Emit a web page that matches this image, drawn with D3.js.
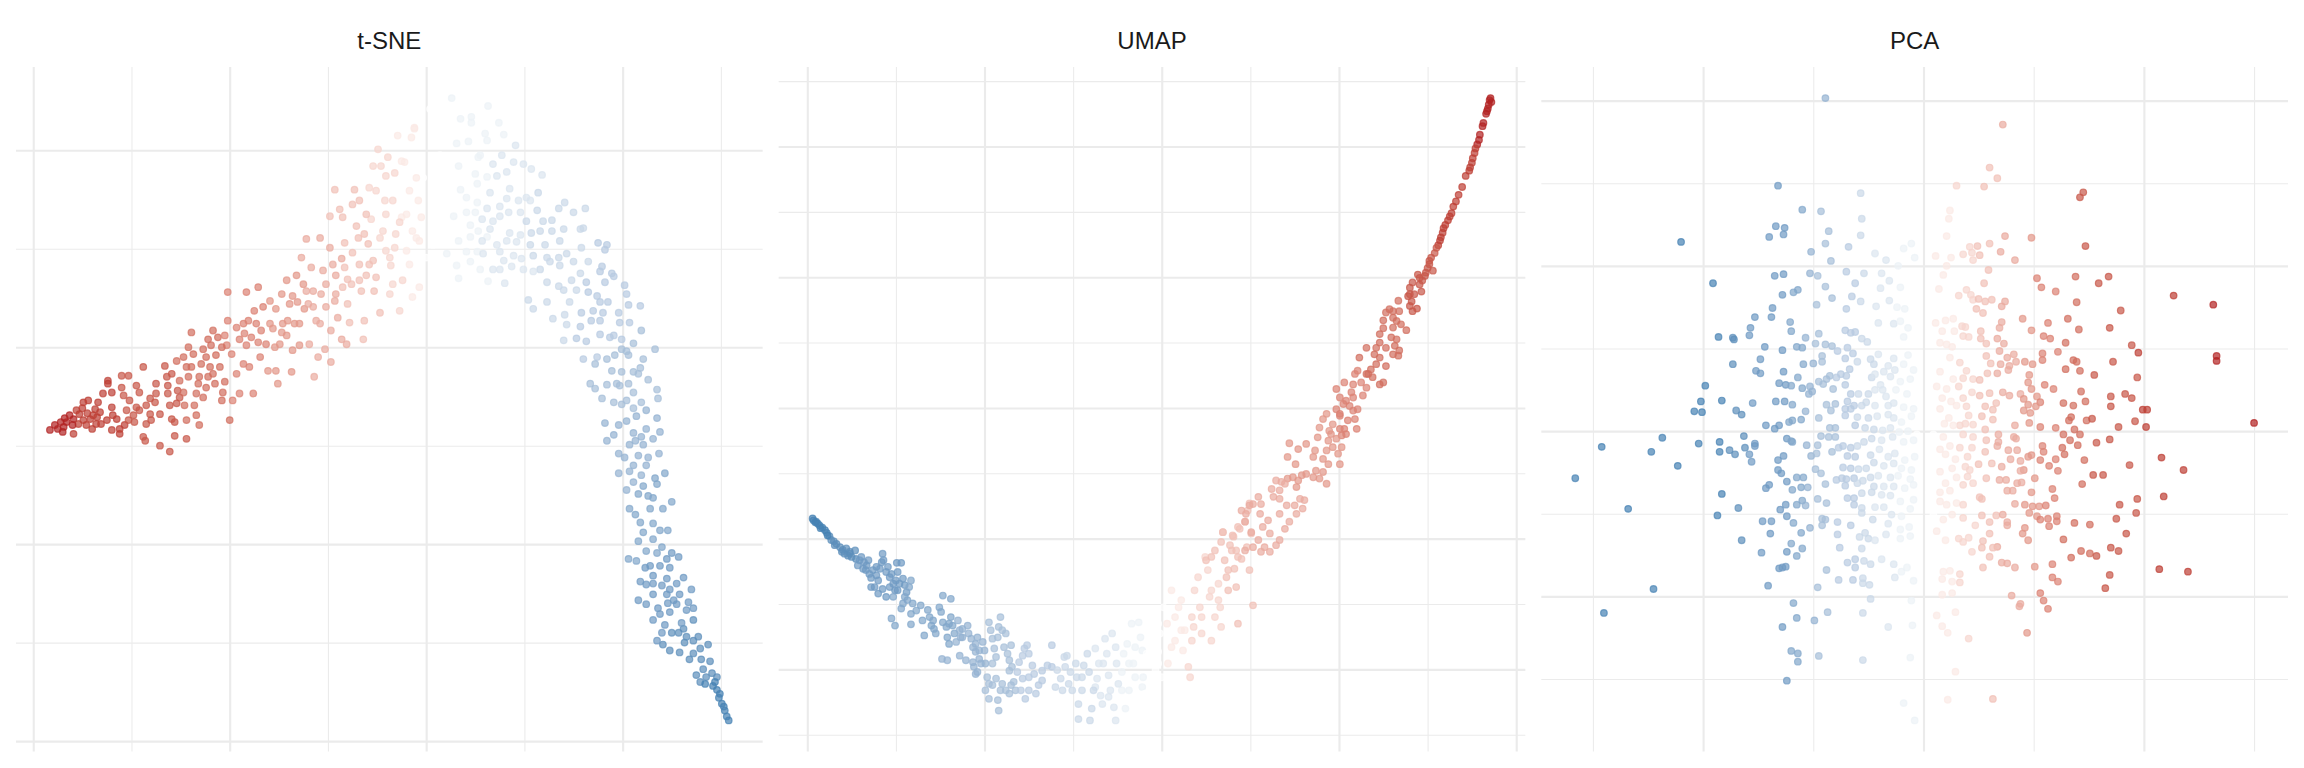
<!DOCTYPE html>
<html>
<head>
<meta charset="utf-8">
<script src="https://cdn.jsdelivr.net/npm/d3@7"></script>
<style>
html,body{margin:0;padding:0;background:#fff;}
svg{display:block;}
</style>
</head>
<body>
<svg id="chart" width="2304" height="768"></svg>
<script>
// ---------------- DATA ----------------
const panelTitles = ["t-SNE", "UMAP", "PCA"];

// each point: [dim1, dim2, colour value (-10 = blue end, +10 = red end)]
const tsne = [
[-38.3,-8.4,10],[-37.8,-7.9,10],[-37.5,-8.3,10],[-36.9,-8.1,10],[-36.6,-7.6,10],[-36.3,-6.9,10],[-35.9,-7.3,10],[-35.6,-6.4,9],[-35.3,-6.8,9],[-35.4,-7.8,9],[-34.9,-7.4,9],[-34.6,-7.9,9],[-35.9,-8.8,9],[-34.2,-7.3,9],[-33.9,-6.9,9],[-34.4,-5.4,9],[-34.9,-5.6,9],[-33.7,-6.3,9],[-33.2,-6.6,9],[-33.1,-7.8,9],[-33.4,-5.6,9],[-32.9,-4.7,9],[-32.4,-3.4,9],[-32.4,-3.7,9],[-32.0,-4.6,9],[-32.0,-6.1,9],[-31.9,-6.9,9],[-32.0,-8.4,9],[-31.2,-8.8,9],[-31.2,-8.3,9],[-30.7,-7.9,9],
[-37.2,-7.6,10],[-36.0,-7.9,10],[-35.0,-6.2,9],[-34.0,-8.3,9],[-33.5,-7.1,9],[-36.8,-7.2,10],[-37.0,-8.6,10],[-34.5,-6.7,9],
[-31.0,-4.1,8],[-31.0,-2.9,8],[-30.3,-2.9,8],[-30.8,-4.9,8],[-30.2,-5.4,8],[-30.5,-6.4,8],[-29.8,-6.9,8],[-29.7,-7.6,8],[-29.5,-6.1,8],[-29.5,-3.9,8],[-29.2,-4.6,8],[-28.8,-2.0,8],[-28.8,-9.1,8],[-28.6,-9.5,8],[-28.5,-7.8,8],[-28.5,-5.9,8],[-28.1,-6.8,8],[-28.1,-5.2,8],[-27.6,-5.6,8],[-27.5,-4.7,8],[-27.1,-6.8,8],[-27.1,-10.0,8],[-26.1,-10.6,8],[-26.6,-1.9,8],[-26.4,-3.0,8],[-26.3,-3.9,8],[-26.3,-4.7,8],[-26.1,-5.9,8],[-25.9,-7.3,8],[-25.6,-7.6,8],[-25.6,-9.0,8],[-25.4,-5.7,8],[-25.3,-4.4,8],[-25.1,-3.4,7],[-25.1,-5.1,8],[-24.7,-4.6,7],[-24.6,-5.9,7],[-24.4,-9.3,8],[-24.4,-7.4,7],[-24.2,-3.0,7],[-24.4,-2.0,7],[-24.2,0.0,7],[-23.9,1.5,7],
[-23.4,-4.7,7],[-23.2,-3.7,7],[-23.1,-3.0,7],[-22.9,-1.7,7],[-22.7,-0.2,7],[-23.6,-5.9,7],[-23.4,-6.9,7],[-23.1,-7.9,7],[-22.7,-5.1,7],[-22.4,-4.1,7],[-22.2,-3.0,7],[-22.0,-2.0,7],[-21.9,0.2,7],[-21.7,1.7,7],[-21.5,-3.7,7],[-21.4,-0.8,7],[-21.2,1.0,7],[-21.0,-2.0,7],[-20.8,-5.4,7],[-20.7,-4.6,7],[-20.5,-3.5,7],[-20.3,0.2,6],[-20.2,2.7,6],[-20.0,-7.4,7],[-20.2,5.6,6],[-19.7,-5.4,6],[-19.3,-2.7,6],[-19.0,-4.7,6],[-18.6,-1.7,6],[-18.5,1.4,6],[-18.3,5.6,6],[-18.1,2.7,6],[-18.0,-2.0,6],[-17.6,-4.7,6],[-17.5,3.7,6],[-17.1,0.5,6],[-17.1,6.1,6],[-16.9,-1.0,6],[-16.8,1.7,6],[-16.3,0.3,6],[-16.1,-2.4,5],[-15.9,4.7,5],[-15.6,1.9,5],[-15.3,3.9,5],[-15.3,-2.4,5],[-15.1,-3.7,5],[-14.9,0.3,5],[-14.7,5.4,5],[-14.6,2.4,5],[-14.2,6.8,5],[-14.1,2.7,5],[-13.9,4.4,5],[-13.7,-2.5,5],[-13.6,-0.3,5],[-13.4,2.4,5],[-13.2,7.3,5],[-13.1,4.6,5],[-12.9,0.2,5],[-12.7,9.1,4],[-12.4,3.9,5],[-12.2,5.7,4],[-12.2,11.0,4],[-11.9,0.3,4],[-11.7,8.1,4],[-11.5,4.1,4],[-11.4,-3.0,4],[-11.2,2.7,4],[-11.0,-1.0,4],[-10.8,11.1,4],[-10.7,5.4,4],[-10.5,7.8,4],[-10.3,-0.2,4],[-10.2,4.1,4],[-9.8,13.3,3],[-9.8,10.1,4],[-9.7,-1.5,4],[-9.5,8.4,4],[-9.3,16.0,3],[-9.3,4.7,4],[-9.2,7.3,4],[-9.0,3.0,4],[-8.8,14.0,3],[-8.6,0.8,4],[-8.5,13.2,3],[-8.5,6.1,3],[-8.3,8.1,3],[-8.3,10.6,3],[-8.1,0.3,4],[-8.0,4.4,3],[-7.8,2.5,3],[-7.6,6.4,3],[-7.5,14.5,3],[-7.3,16.0,3],[-7.1,12.3,3],[-6.9,11.1,3],[-6.8,8.4,3],[-6.6,5.7,3],[-6.4,0.8,3],[-6.3,2.7,3],[-6.1,7.3,3],[-5.9,10.5,3],[-5.8,16.2,2],[-5.6,13.0,2],[-5.4,18.4,2],[-5.4,8.8,3],[-5.3,5.7,3],[-4.9,20.1,2],[-4.7,11.1,2],[-4.7,3.5,3],[-4.6,18.4,2],[-4.2,14.9,2],[-4.1,9.8,2],[-4.1,13.5,2],[-3.9,19.3,2],[-3.7,5.4,2],[-3.6,8.3,2],[-3.4,6.4,2],[-3.2,17.7,2],[-3.1,11.5,2],[-2.9,21.5,1],[-2.7,3.7,2],[-2.5,13.2,1],[-2.4,6.8,2],[-2.2,18.8,1],[-2.0,9.8,1],[-1.7,8.4,1],[-1.5,21.3,1],[-1.4,5.1,1],[-1.2,22.3,1],[-1.0,11.1,1],[-0.8,14.9,1],[-0.7,6.1,1],[-0.5,13.2,1],[-0.3,17.2,0],[0.0,9.1,0],[0.4,24.2,0],[-1.2,22.2,1],
[-33.6,-7.8,9],[-32.5,-7.4,9],[-31.5,-7.3,9],[-30.3,-7.4,8],[-29.2,-6.4,8],[-28.0,-7.4,8],[-27.5,-3.7,8],[-25.9,-2.7,8],[-25.4,-1.4,7],[-24.7,-1.0,7],[-23.9,-2.0,7],[-23.7,-0.7,7],[-22.4,-1.0,7],[-22.2,0.8,7],[-21.7,-2.7,7],[-20.8,0.0,7],[-20.5,1.2,6],[-19.8,-0.7,6],[-19.3,2.0,6],[-19.0,0.8,6],[-18.6,2.4,6],[-18.3,0.2,6],[-17.8,1.0,6],[-17.3,2.4,6],[-16.6,4.1,6],[-15.9,2.4,5],[-15.4,0.0,5],[-14.7,1.5,5],[-14.2,1.2,5],[-13.6,5.2,5],[-12.9,2.4,5],[-12.5,6.4,5],[-12.0,4.4,4],[-11.5,5.7,4],[-10.8,2.4,4],[-10.2,6.4,4],[-9.7,1.7,4],[-9.2,5.4,4],[-8.6,9.0,4],[-8.0,6.9,3],[-7.5,9.6,3],[-6.8,6.8,3],[-6.3,11.5,3],[-5.8,8.4,3],[-5.1,7.1,3],[-4.4,11.8,2],[-3.7,9.1,2],[-3.2,10.1,2],[-2.7,12.7,2],[-2.0,13.5,1],[-1.4,11.8,1],[-0.7,10.8,1],[-5.1,15.9,2],[-3.4,14.9,2],[-1.7,15.9,1],[-1.0,17.2,1],[-2.5,18.9,1],[-4.1,17.4,2],[-6.8,14.9,3],[-6.1,13.5,3],
[1.4,19.5,0],[3.5,16.0,-1],[1.8,14.5,0],[1.1,17.8,0],[2.4,12.0,0],[4.1,13.7,-1],[5.2,16.6,-1],[6.8,12.8,-2],[8.5,16.1,-2],[6.2,11.2,-1],[7.5,7.9,-2],[4.5,8.7,-1],[2.4,7.9,0],[5.2,9.7,-1],[1.4,12.4,0],
[16.3,6.6,-4],[17.7,4.6,-4],[19.1,1.2,-4],[20.4,-0.4,-5],[21.8,-2.1,-5],[19.4,-3.7,-5],[21.1,-6.2,-5],[22.4,-8.3,-6],[20.7,-9.9,-6],[22.4,-12.0,-6],[21.1,-13.7,-6],[23.1,-15.3,-7],[21.8,-17.8,-7],[23.8,-18.6,-7],[24.5,-21.5,-8],[23.1,-24.0,-8],[25.2,-25.7,-8],[24.1,-30.2,-9],[26.2,-28.6,-9],[27.2,-31.1,-9],[28.9,-31.9,-9],[29.6,-33.5,-9],[27.9,-34.0,-9],
[2.6,25.3,-1],[6.3,24.5,-1],[3.5,23.2,-1],[4.6,23.4,-1],[4.6,22.8,-1],[7.4,22.8,-1],[7.9,21.6,-1],[6.0,21.7,-1],[6.2,21.0,-1],[4.3,20.9,-1],[2.1,20.7,0],[3.1,20.7,-1],[9.1,20.5,-2],[5.5,19.5,-1],[7.7,19.5,-2],[5.3,19.3,-1],[6.8,18.6,-2],[8.9,18.8,-2],[9.9,18.6,-2],[10.7,18.1,-2],[11.8,17.5,-2],[8.2,17.8,-2],[7.2,17.4,-2],[6.2,17.3,-1],[5.0,17.6,-1],[3.3,18.4,-1],[2.6,16.8,0],[4.1,15.2,-1],[5.2,14.7,-1],[6.5,15.7,-2],[8.2,15.1,-2],[9.4,14.9,-2],[10.6,14.9,-2],[11.4,15.7,-3],[10.2,15.2,-2],[7.5,14.3,-2],[6.2,14.1,-2],[5.0,13.7,-1],[2.8,13.3,-1],[4.5,12.4,-1],[5.7,13.0,-2],[7.5,13.3,-2],[8.4,13.7,-2],[9.6,13.7,-2],[10.2,12.8,-3],[11.3,13.9,-3],[11.9,12.8,-3],[12.8,12.9,-3],[13.5,14.1,-3],[14.1,14.7,-3],[15.0,13.7,-3],[16.2,14.1,-3],[14.0,12.0,-3],[12.8,11.8,-3],[11.6,11.8,-3],[10.7,11.6,-3],[9.6,11.4,-2],[8.5,11.6,-2],[6.5,12.0,-2],[5.3,11.8,-1],[4.5,11.2,-1],[3.3,10.8,-1],[1.9,10.8,0],[0.7,10.4,0],[5.7,10.8,-2],[7.2,10.4,-2],[8.2,10.8,-2],[9.2,10.7,-2],[10.6,10.4,-3],[12.1,10.4,-3],[13.6,10.8,-3],[15.7,12.0,-3],[16.0,12.1,-3],[17.5,10.6,-4],[18.4,10.4,-4],[15.8,10.1,-3],[14.3,9.5,-3],[13.5,9.1,-3],[12.3,9.1,-3],[10.9,9.3,-3],[9.7,9.0,-2],[8.9,9.3,-2],[7.5,9.7,-2],[5.8,9.5,-2],[4.1,9.7,-1],[2.1,9.5,-1],[3.1,8.3,-1],[5.5,7.9,-1],[6.8,7.9,-2],[7.9,8.8,-2],[8.7,8.2,-2],[9.9,7.9,-2],[11.6,7.9,-3],[12.6,8.7,-3],[13.6,8.3,-3],[15.0,8.7,-3],[16.5,8.7,-3],[17.9,8.2,-4],[18.2,9.9,-4],[18.9,7.5,-4],[17.7,7.7,-4],[15.7,7.5,-3],[14.8,6.8,-3],[13.5,6.2,-3],[12.3,6.6,-3],[10.9,7.7,-2],[6.3,6.7,-1],[8.0,6.5,-2],[3.3,7.0,-1],[14.0,5.8,-3],[15.3,5.8,-3],[16.5,5.6,-4],[17.4,5.2,-4],[18.2,6.6,-4],[19.1,7.2,-4],[20.2,6.3,-4],[20.4,5.4,-4],[10.4,4.8,-3],[12.3,4.6,-3],[10.9,3.9,-3],[14.6,4.6,-3],[15.8,3.5,-4],[17.0,3.7,-4],[18.0,3.5,-4],[18.5,4.6,-4],[19.6,3.5,-4],[20.6,4.3,-4],[21.8,4.2,-4],[19.7,2.5,-4],[20.7,2.5,-4],[12.9,2.9,-3],[14.1,3.3,-3],[14.3,2.3,-3],[15.7,2.1,-4],[16.8,2.7,-4],[17.7,2.7,-4],[18.7,1.0,-4],[19.9,0.8,-4],[21.1,0.4,-5],[21.9,1.7,-5],[23.3,-0.2,-5],[14.0,0.7,-3],[15.3,0.9,-4],[16.3,0.6,-4],[17.7,1.3,-4],[19.9,-0.2,-5],[16.0,-1.2,-4],[17.4,-1.0,-4],[18.4,-1.2,-5],[19.2,-0.8,-5],[20.6,-0.8,-5],[22.1,-1.2,-5],[17.2,-1.7,-5],[18.9,-2.4,-5],[19.9,-2.5,-5],[21.1,-2.5,-5],[22.6,-3.3,-5],[21.6,-2.7,-5],[16.7,-3.7,-5],[18.4,-3.8,-5],[19.7,-3.9,-5],[20.6,-3.7,-5],[21.1,-4.6,-5],[23.5,-4.3,-5],[17.2,-4.2,-5],[17.9,-5.2,-5],[19.1,-5.6,-5],[19.9,-5.8,-5],[20.4,-5.4,-5],[21.9,-5.6,-5],[23.6,-5.2,-5],[22.4,-6.4,-6],[21.4,-7.0,-6],[23.5,-7.2,-6],[18.2,-7.7,-6],[19.6,-7.9,-6],[20.4,-7.5,-6],[21.1,-8.7,-6],[21.9,-9.1,-6],[23.1,-9.3,-6],[23.8,-8.6,-6],[18.4,-9.5,-6],[19.1,-8.9,-6],[21.3,-9.5,-6],[22.1,-9.9,-6],[19.6,-10.8,-6],[20.2,-11.2,-6],[21.6,-11.0,-6],[22.6,-11.2,-6],[23.7,-10.8,-6],[21.1,-12.0,-6],[19.6,-12.8,-6],[20.7,-12.6,-6],[21.9,-13.0,-6],[23.3,-13.3,-7],[24.3,-12.8,-7],[23.5,-13.9,-7],[22.1,-14.1,-7],[20.4,-14.5,-6],[21.6,-14.9,-7],[22.6,-15.1,-7],[20.7,-16.4,-7],[21.3,-17.0,-7],[22.8,-16.4,-7],[24.1,-16.4,-7],[25.0,-15.7,-7],[23.1,-17.9,-7],[24.6,-18.6,-7],[22.1,-18.8,-7],[21.6,-19.7,-7],[23.1,-19.5,-7],[24.0,-20.3,-7],[22.4,-20.7,-7],[23.5,-20.9,-7],[25.0,-20.9,-8],[25.7,-21.3,-8],[20.6,-21.5,-7],[21.4,-21.7,-7],[22.8,-22.2,-8],[22.3,-22.4,-8],[23.8,-22.2,-8],[24.8,-22.4,-8],[23.1,-23.2,-8],[24.5,-23.5,-8],[21.8,-23.8,-8],[22.4,-24.1,-8],[24.0,-24.2,-8],[24.8,-24.6,-8],[25.5,-24.0,-8],[26.2,-23.4,-8],[23.1,-25.1,-8],[24.5,-25.1,-8],[25.8,-25.1,-8],[27.0,-24.6,-8],[21.6,-25.7,-8],[22.4,-26.1,-8],[23.6,-26.5,-8],[24.6,-26.0,-8],[25.5,-26.1,-8],[26.7,-25.9,-8],[23.8,-27.1,-8],[24.8,-26.9,-8],[26.5,-26.7,-8],[27.2,-26.5,-8],[23.1,-27.7,-8],[24.3,-28.2,-8],[26.0,-28.0,-8],[27.2,-27.7,-9],[24.0,-29.0,-8],[25.0,-29.0,-9],[25.7,-29.0,-9],[26.5,-29.4,-9],[27.7,-29.4,-9],[23.5,-29.8,-8],[26.3,-30.0,-9],[27.2,-29.8,-9],[28.7,-30.2,-9],[27.9,-30.6,-9],[24.8,-30.8,-9],[25.8,-31.0,-9],[26.8,-31.7,-9],[28.0,-31.7,-9],[27.5,-33.3,-9],[28.2,-32.7,-9],[28.5,-33.5,-9],[29.1,-33.1,-9],[28.4,-34.2,-10],[29.2,-34.4,-10],[29.9,-35.2,-10],[29.6,-34.8,-10],[30.1,-36.2,-10],[30.4,-36.9,-10],[30.6,-37.5,-10],[30.8,-37.9,-10],[29.4,-34.0,-10],[29.8,-35.6,-10],[30.3,-36.5,-10]
];

const umap = [
[-3.94,-1.69,-10],[-3.93,-1.72,-10],[-3.90,-1.74,-10],[-3.88,-1.77,-10],[-3.86,-1.80,-10],[-3.83,-1.83,-10],[-3.80,-1.87,-10],[-3.78,-1.91,-10],[-3.75,-1.96,-9],[-3.73,-2.02,-9],[-3.70,-2.04,-9],[-3.67,-2.08,-9],[-3.63,-2.13,-9],[-3.60,-2.17,-9],[-3.58,-2.23,-9],[-3.61,-2.20,-9],[-3.56,-2.15,-9],[-3.54,-2.26,-9],[-3.50,-2.28,-9],[-3.46,-2.18,-9],[-3.45,-2.31,-9],[-3.43,-2.41,-8],[-3.41,-2.33,-8],[-3.39,-2.28,-8],[-3.36,-2.36,-8],[-3.33,-2.41,-8],[-3.34,-2.48,-8],[-3.31,-2.33,-8],[-3.30,-2.54,-8],[-3.28,-2.60,-8],[-3.26,-2.48,-8],[-3.24,-2.74,-8],[-3.22,-2.56,-8],[-3.20,-2.64,-8],[-3.18,-2.46,-8],[-3.16,-2.36,-8],[-3.15,-2.23,-8],[-3.14,-2.33,-8],[-3.11,-2.51,-8],[-3.09,-2.43,-8],[-3.07,-2.59,-8],[-3.05,-2.54,-8],[-3.03,-2.69,-8],[-3.01,-2.79,-8],[-3.00,-2.64,-8],[-2.98,-2.51,-8],[-2.99,-2.37,-8],[-2.94,-2.37,-8],[-2.92,-2.61,-8],[-2.90,-2.71,-8],[-2.88,-2.82,-8],[-2.87,-2.94,-7],[-2.85,-2.74,-7],[-2.83,-2.64,-7],[-2.92,-2.99,-7],[-2.94,-3.07,-7],[-3.05,-3.22,-7],[-3.01,-3.33,-7],[-2.83,-3.15,-7],[-2.83,-3.31,-7],[-2.81,-2.99,-7],[-3.03,-2.89,-7],[-3.11,-2.89,-8],[-3.20,-2.84,-8],[-3.28,-2.74,-8],[-3.15,-2.77,-8],[-2.98,-2.79,-8],[-2.90,-2.89,-7],
[-3.91,-1.75,-10],[-3.85,-1.84,-10],[-3.77,-1.95,-10],[-3.69,-2.10,-9],[-3.52,-2.20,-9],
[-3.52,-2.23,-9],[-3.37,-2.46,-8],[-3.22,-2.43,-8],[-3.07,-2.74,-8],[-2.96,-2.69,-8],[-2.77,-3.10,-7],[-2.58,-3.25,-7],[-2.40,-3.30,-7],[-2.25,-3.51,-6],[-2.06,-3.71,-6],[-1.91,-3.91,-5],[-1.72,-4.02,-5],[-1.65,-4.32,-5],[-1.50,-4.12,-4],[-1.35,-4.02,-4],[-1.20,-4.27,-3],[-1.05,-4.22,-3],[-0.90,-4.12,-3],[-0.75,-4.27,-2],[-0.60,-4.42,-2],[-0.45,-4.32,-1],[-0.30,-4.12,-1],[-0.15,-4.12,0],[-0.04,-3.91,0],[0.11,-3.66,1],[0.22,-3.40,1],[0.34,-3.56,2],[0.45,-3.20,2],[0.56,-2.79,2],[0.64,-2.94,2],[0.75,-2.48,3],[0.86,-2.28,3],[0.15,-3.20,1],[-0.04,-3.30,0],[-0.22,-3.71,-1],[-0.37,-3.91,-1],[-0.52,-3.66,-2],[-0.66,-3.91,-2],
[-2.72,-3.02,-7],[-2.64,-3.09,-7],[-2.70,-3.25,-7],[-2.68,-3.48,-7],[-2.60,-3.33,-7],[-2.62,-3.20,-7],[-2.57,-3.38,-7],[-2.55,-3.45,-7],[-2.51,-3.05,-7],[-2.47,-2.87,-7],[-2.38,-2.92,-7],[-2.49,-3.12,-7],[-2.47,-3.28,-7],[-2.43,-3.35,-7],[-2.42,-3.51,-7],[-2.40,-3.61,-7],[-2.38,-3.20,-7],[-2.36,-3.33,-7],[-2.34,-3.45,-7],[-2.32,-3.58,-6],[-2.30,-3.25,-6],[-2.28,-3.40,-6],[-2.27,-3.51,-6],[-2.25,-3.38,-6],[-2.19,-3.33,-6],[-2.18,-3.45,-6],[-2.15,-3.53,-6],[-2.13,-3.66,-6],[-2.10,-3.61,-6],[-2.08,-3.51,-6],[-2.10,-3.73,-6],[-2.06,-3.84,-6],[-2.04,-3.91,-6],[-2.02,-3.58,-6],[-2.00,-3.71,-6],[-1.99,-3.91,-6],[-1.95,-3.28,-5],[-1.93,-3.40,-5],[-1.91,-3.53,-5],[-1.89,-3.68,-5],[-1.87,-3.81,-5],[-1.85,-3.51,-5],[-1.84,-3.35,-5],[-1.82,-3.20,-5],[-1.80,-3.40,-5],[-1.78,-3.66,-5],[-1.76,-3.45,-5],[-1.74,-3.76,-5],[-1.72,-3.86,-5],[-1.70,-3.63,-5],[-1.69,-3.96,-5],[-2.48,-3.84,-6],[-2.42,-3.86,-6],[-2.28,-3.79,-6],[-2.21,-3.86,-6],[-2.13,-3.89,-6],[-2.10,-4.07,-6],[-2.12,-3.96,-6],[-2.08,-4.04,-6],[-1.97,-4.12,-5],[-1.95,-4.22,-5],[-1.99,-4.32,-5],[-1.95,-4.45,-5],[-1.91,-4.24,-5],[-1.87,-4.14,-5],[-1.85,-4.47,-5],[-1.82,-4.32,-5],[-1.84,-4.63,-5],[-1.80,-4.22,-5],[-1.76,-4.32,-5],[-1.72,-4.37,-5],[-1.70,-4.24,-5],[-1.67,-4.19,-5],[-1.63,-4.04,-4],[-1.61,-3.89,-4],[-1.57,-3.79,-4],[-1.55,-3.68,-4],[-1.52,-3.63,-4],[-1.50,-3.76,-4],[-1.46,-3.94,-4],[-1.44,-4.07,-4],[-1.57,-4.14,-4],[-1.59,-4.32,-4],[-1.54,-4.45,-4],[-1.50,-4.32,-4],[-1.42,-4.37,-4],[-1.39,-4.24,-4],[-1.35,-4.17,-4],[-1.29,-3.94,-4],[-1.24,-3.63,-4],[-1.24,-3.96,-4],[-1.18,-4.01,-3],[-1.14,-4.14,-3],[-1.12,-4.32,-3],[-1.10,-3.81,-3],[-1.07,-3.79,-3],[-1.09,-3.96,-3],[-1.03,-4.04,-3],[-1.01,-4.32,-3],[-0.97,-3.91,-3],[-0.96,-4.12,-3],[-0.94,-4.53,-3],[-0.94,-4.76,-3],[-0.90,-4.32,-3],[-0.88,-3.94,-3],[-0.84,-3.76,-3],[-0.82,-4.04,-3],[-0.81,-4.78,-3],[-0.79,-4.60,-3],[-0.77,-4.32,-3],[-0.75,-3.68,-2],[-0.73,-4.14,-2],[-0.71,-3.91,-2],[-0.69,-4.40,-2],[-0.67,-4.53,-2],[-0.64,-3.53,-2],[-0.62,-3.76,-2],[-0.60,-4.09,-2],[-0.56,-3.45,-2],[-0.58,-4.32,-2],[-0.54,-4.58,-2],[-0.52,-4.78,-2],[-0.51,-3.91,-2],[-0.49,-4.22,-2],[-0.45,-4.04,-1],[-0.43,-3.76,-1],[-0.41,-4.60,-1],[-0.39,-3.61,-1],[-0.37,-4.32,-1],[-0.34,-3.30,-1],[-0.32,-3.91,-1],[-0.30,-3.66,-1],[-0.26,-3.28,-1],[-0.24,-3.51,-1],[-0.22,-4.27,-1],[-0.21,-4.12,-1],[-0.19,-4.37,0],[-0.17,-3.76,0],[-0.15,-3.89,0],[-0.11,-3.20,0],[-0.09,-3.56,0],[-0.07,-4.01,0],[-0.04,-3.73,0],[-0.02,-3.45,0],[0.00,-4.12,0],[0.02,-3.05,0],[0.06,-3.30,1],[0.07,-3.91,1],[0.11,-2.79,1],[0.15,-3.56,1],[0.19,-3.05,1],[0.22,-2.94,1],[0.24,-3.71,1],[0.26,-3.40,1],[0.30,-3.96,2],[0.32,-4.12,2],[0.34,-3.20,2],[0.36,-3.35,2],[0.37,-2.79,2],[0.41,-2.59,2],[0.43,-3.05,2],[0.45,-3.45,2],[0.49,-2.28,2],[0.52,-2.48,2],[0.54,-2.89,2],[0.56,-3.56,2],[0.60,-3.20,2],[0.64,-2.69,2],[0.66,-3.05,2],[0.67,-3.35,2],[0.69,-1.90,3],[0.71,-2.33,3],[0.73,-2.59,3],[0.75,-2.79,3],[0.79,-2.18,3],[0.81,-1.97,3],[0.82,-2.46,3],[0.84,-2.74,3],[0.86,-3.30,3],[0.88,-1.85,3],[0.90,-2.31,3],[0.94,-1.74,3],[0.96,-2.13,3],[0.97,-1.57,3],[0.99,-2.48,3],[1.01,-1.92,3],[1.03,-3.02,3],[0.99,-1.46,3],
[2.16,0.16,6],[2.31,0.52,7],[2.46,1.13,7],[2.61,1.48,7],[2.80,1.74,8],[2.91,1.99,8],[1.89,-0.35,5],[1.71,-0.75,5],[1.52,-1.21,5],[1.33,-1.62,4],[1.14,-1.82,4],[2.01,-0.09,6],[2.23,0.77,7],
[3.70,4.71,10],[3.72,4.68,10],[3.69,4.64,10],[3.68,4.58,10],[3.67,4.54,10],[3.71,4.74,10],[3.66,4.50,10],[3.63,4.36,10],[3.62,4.31,10],[3.59,4.18,10],[3.58,4.10,10],[3.56,4.03,10],[3.54,3.97,9],[3.53,3.90,9],[3.51,3.82,9],[3.50,3.75,9],[3.48,3.68,9],[3.47,3.63,9],[3.43,3.55,9],[3.39,3.38,9],[3.35,3.26,9],[3.32,3.16,9],[3.29,3.08,9],[3.27,2.98,9],[3.25,2.93,9],[3.23,2.87,9],[3.20,2.80,9],[3.18,2.75,9],[3.17,2.68,9],[3.15,2.61,9],[3.14,2.56,9],[3.12,2.49,9],[3.10,2.45,8],[3.08,2.37,8],[3.04,2.30,8],[3.02,2.25,8],[3.02,2.20,8],[3.00,2.14,8],[3.06,2.10,8],[2.98,2.07,8],[2.97,2.02,8],[2.89,2.04,8],[2.94,1.95,8],[2.91,1.89,8],[2.93,1.78,8],[2.83,1.92,8],[2.80,1.84,8],[2.85,1.74,8],[2.78,1.71,8],[2.82,1.63,8],[2.88,1.52,8],[2.83,1.48,8],[2.80,1.56,8],[2.67,1.64,7],[2.68,1.48,7],[2.57,1.51,7],[2.53,1.46,7],[2.61,1.38,7],[2.50,1.34,7],[2.65,1.33,7],[2.70,1.28,7],[2.76,1.19,7],[2.61,1.23,7],[2.50,1.22,7],[2.59,1.08,7],[2.65,1.05,7],[2.63,0.95,7],[2.68,0.88,7],[2.67,0.80,7],[2.61,0.82,7],[2.53,0.92,7],[2.46,1.00,7],[2.42,0.92,7],[2.40,0.82,7],[2.46,0.77,7],[2.42,0.67,7],[2.53,0.64,7],[2.31,0.92,7],[2.36,0.59,7],[2.33,0.52,7],[2.38,0.47,7],[2.50,0.39,7],[2.46,0.36,7],[2.21,0.57,6],[2.18,0.52,6],[2.25,0.39,6],[2.31,0.31,6],[2.27,0.19,6],[2.16,0.36,6],[2.06,0.39,6],[2.14,0.24,6],[2.08,0.11,6],[1.97,0.29,6],[2.01,0.16,6],[2.05,0.06,6],[2.12,0.03,6],[2.16,-0.04,6],[2.21,-0.02,6],[2.18,-0.17,6],[1.97,-0.02,6],[2.01,-0.12,6],[2.10,-0.19,6],[2.20,-0.32,6],[2.06,-0.32,6],[2.08,-0.40,6],[2.03,-0.42,6],[2.01,-0.32,6],[1.93,-0.25,5],[1.86,-0.09,5],[1.82,-0.17,5],[1.78,-0.30,5],[1.91,-0.40,5],[1.97,-0.47,5],[1.88,-0.50,5],[1.86,-0.65,5],[1.93,-0.60,5],[2.03,-0.60,5],[1.99,-0.70,5],[2.01,-0.86,5],[1.76,-0.45,5],[1.73,-0.65,5],[1.82,-0.78,5],[1.88,-0.86,5],[1.82,-0.98,5],[1.74,-0.96,5],[1.78,-1.08,5],[1.86,-1.16,5],[1.71,-1.06,5],[1.63,-1.01,5],[1.58,-1.03,5],[1.54,-1.11,5],[1.48,-1.06,5],[1.42,-1.08,5],[1.44,-0.54,5],[1.54,-0.63,5],[1.63,-0.55,5],[1.51,-0.86,5],[1.42,-0.75,5],[1.39,-1.16,4],[1.35,-1.13,4],[1.29,-1.11,4],[1.24,-1.24,4],[1.33,-1.26,4],[1.26,-1.36,4],[1.33,-1.39,4],[1.41,-1.49,4],[1.50,-1.49,4],[1.56,-1.39,4],[1.61,-1.41,4],[1.59,-1.54,4],[1.52,-1.62,4],[1.44,-1.74,4],[1.39,-1.85,4],[1.33,-2.02,4],[1.29,-2.10,4],[1.22,-1.92,4],[1.20,-1.72,4],[1.11,-1.62,4],[1.12,-1.47,4],[1.09,-1.36,4],[1.03,-1.47,4],[0.99,-1.49,4],[0.95,-1.62,4],[0.90,-1.57,4],[0.94,-1.74,4],[1.01,-1.90,4],[1.09,-2.02,4],[1.16,-2.13,4],[1.22,-2.20,4],[1.12,-2.20,4],[1.03,-2.13,4],[0.94,-2.18,4],[0.86,-1.82,3],[0.80,-1.95,3],[0.69,-1.90,3],[0.67,-2.05,3],[0.77,-2.10,3],[0.84,-2.18,3],[0.60,-2.18,3],[0.56,-2.28,3],[0.50,-2.33,3]
];

const pca = [
[-0.89,4.03,-6],[-1.32,2.97,-8],[-0.57,2.88,-3],[-1.10,2.68,-7],[-0.93,2.66,-5],[-0.56,2.57,-3],[-1.34,2.48,-8],[-1.26,2.46,-8],[-1.27,2.38,-8],[-1.40,2.35,-8],[-2.20,2.29,-10],[-0.57,2.37,-3],[-0.86,2.42,-5],[-0.89,2.27,-5],[-0.68,2.23,-4],[-1.02,2.17,-6],[-0.84,2.06,-5],[-0.44,2.15,-2],[-0.34,2.07,-2],[-0.18,2.21,-1],[-0.11,2.27,-1],[-0.23,2.00,-1],[-0.08,2.10,-1],[-1.35,1.88,-8],[-1.27,1.90,-8],[-1.03,1.91,-6],[-0.96,1.88,-5],[-0.70,1.93,-4],[-0.54,1.91,-3],[-0.38,1.91,-2],[-0.31,1.82,-2],[-1.91,1.79,-10],[-0.89,1.75,-5],[-0.62,1.79,-4],[-0.39,1.73,-2],[-0.21,1.74,-1],[-1.28,1.65,-8],[-1.18,1.68,-7],[-1.14,1.71,-7],[-0.83,1.61,-5],[-0.65,1.63,-4],[-0.57,1.57,-3],[-0.31,1.58,-2],[-0.24,1.50,-1],[-0.97,1.53,-5],[-1.37,1.49,-8],[-0.70,1.48,-4],[-0.43,1.51,-2],[-0.17,1.48,-1],[-1.53,1.38,-8],[-1.38,1.38,-8],[-1.21,1.32,-7],[-1.57,1.25,-8],[-1.20,1.21,-7],[-0.41,1.31,-2],[-0.27,1.30,-2],[-0.21,1.33,-1],[-0.14,1.25,-1],[-1.58,1.16,-8],[-1.86,1.14,-10],[-1.73,1.13,-9],[-1.72,1.11,-9],[-1.07,1.13,-6],[-0.95,1.18,-5],[-0.71,1.22,-4],[-0.66,1.19,-4],[-0.62,1.20,-4],[-0.51,1.08,-3],[-0.56,1.12,-3],[-0.18,1.14,-1],[-1.44,1.02,-8],[-1.28,0.98,-8],[-1.15,1.02,-7],[-1.10,1.01,-7],[-0.98,1.06,-5],[-0.89,1.05,-5],[-0.83,1.03,-5],[-0.78,0.97,-4],[-0.69,1.01,-4],[-0.64,0.94,-4],[-0.60,0.84,-3],[-0.48,0.87,-3],[-0.41,0.93,-2],[-0.32,0.79,-2],[-0.27,0.88,-2],[-0.14,0.92,-1],[-1.73,0.81,-9],[-1.48,0.87,-8],[-1.09,0.81,-7],[-1.00,0.82,-6],[-0.92,0.84,-5],[-0.92,0.91,-5],[-0.71,0.88,-4],[-0.45,0.81,-3],[-0.36,0.72,-2],[-0.26,0.74,-2],[-0.18,0.81,-1],[-0.09,0.74,-1],[-1.52,0.73,-8],[-1.48,0.70,-8],[-1.27,0.72,-8],[-1.14,0.65,-7],[-0.95,0.60,-5],[-0.88,0.63,-5],[-0.85,0.67,-5],[-0.79,0.65,-4],[-0.75,0.69,-4],[-0.70,0.67,-4],[-0.67,0.75,-4],[-0.47,0.65,-3],[-0.44,0.69,-2],[-0.39,0.56,-2],[-0.30,0.66,-2],[-0.21,0.60,-1],[-0.12,0.63,-1],[-0.05,0.54,0],[-1.98,0.55,-10],[-1.31,0.58,-8],[-1.25,0.56,-8],[-1.20,0.55,-7],[-1.10,0.52,-7],[-1.03,0.54,-6],[-1.04,0.45,-6],[-0.91,0.57,-5],[-0.82,0.51,-5],[-0.71,0.56,-4],[-0.66,0.45,-4],[-0.59,0.45,-3],[-0.50,0.45,-3],[-0.44,0.50,-2],[-0.37,0.50,-2],[-0.34,0.42,-2],[-0.25,0.50,-1],[-0.15,0.45,-1],[-0.06,0.42,0],[-2.02,0.36,-10],[-1.83,0.37,-10],[-1.55,0.34,-8],[-1.34,0.36,-8],[-1.26,0.36,-8],[-1.19,0.32,-7],[-1.01,0.48,-6],[-0.88,0.32,-5],[-0.80,0.33,-5],[-0.69,0.36,-4],[-0.63,0.31,-4],[-0.56,0.31,-3],[-0.52,0.35,-3],[-0.44,0.31,-2],[-0.32,0.31,-2],[-0.27,0.34,-2],[-0.18,0.29,-1],[-0.09,0.27,-1],[-2.08,0.24,-10],[-2.01,0.23,-10],[-1.70,0.25,-9],[-1.65,0.20,-9],[-1.07,0.24,-6],[-0.84,0.25,-5],[-0.71,0.27,-4],[-0.66,0.27,-4],[-0.60,0.17,-3],[-0.50,0.16,-3],[-0.42,0.18,-2],[-0.32,0.20,-2],[-0.27,0.16,-2],[-0.20,0.11,-1],[-0.11,0.18,-1],[-1.43,0.07,-8],[-1.35,0.03,-8],[-1.31,0.07,-8],[-1.22,0.11,-7],[-1.19,0.13,-7],[-1.11,0.14,-7],[-0.95,0.16,-5],[-0.71,0.19,-4],[-0.85,0.04,-5],[-0.80,0.04,-5],[-0.62,0.07,-4],[-0.53,0.04,-3],[-0.45,0.02,-3],[-0.37,0.01,-2],[-0.30,0.04,-2],[-0.22,-0.01,-1],[-0.14,0.00,-1],[-0.06,-0.04,0],[-2.37,-0.08,-10],[-2.92,-0.19,-10],[-2.47,-0.25,-10],[-2.04,-0.15,-10],[-1.85,-0.13,-10],[-1.63,-0.06,-9],[-1.53,-0.15,-8],[-1.24,-0.09,-8],[-1.20,-0.12,-7],[-1.19,-0.13,-7],[-1.06,-0.17,-6],[-0.96,-0.17,-5],[-0.93,-0.06,-5],[-0.86,-0.07,-5],[-0.80,-0.07,-5],[-0.73,-0.18,-4],[-0.66,-0.20,-4],[-0.60,-0.18,-3],[-0.54,-0.13,-3],[-0.47,-0.09,-3],[-0.38,-0.11,-2],[-0.28,-0.07,-2],[-0.18,-0.13,-1],[-0.09,-0.11,-1],[-1.85,-0.25,-10],[-1.76,-0.23,-9],[-1.71,-0.28,-9],[-1.62,-0.20,-9],[-1.58,-0.28,-8],[-1.53,-0.18,-8],[-1.56,-0.37,-8],[-1.32,-0.35,-8],[-1.27,-0.30,-8],[-1.02,-0.30,-6],[-0.97,-0.27,-5],[-0.83,-0.25,-5],[-0.77,-0.20,-4],[-0.69,-0.30,-4],[-0.62,-0.31,-4],[-0.48,-0.29,-3],[-0.40,-0.22,-2],[-0.32,-0.31,-2],[-0.26,-0.27,-2],[-0.17,-0.35,-1],[-0.08,-0.31,-1],[-2.23,-0.42,-10],[-3.16,-0.57,-10],[-1.32,-0.47,-8],[-1.29,-0.51,-8],[-0.98,-0.46,-5],[-0.93,-0.51,-5],[-0.73,-0.44,-4],[-0.66,-0.45,-4],[-0.59,-0.46,-3],[-0.52,-0.45,-3],[-0.45,-0.38,-3],[-0.36,-0.42,-2],[-0.27,-0.39,-2],[-0.20,-0.45,-1],[-0.11,-0.47,-1],[-1.15,-0.56,-7],[-1.09,-0.56,-7],[-1.24,-0.61,-8],[-0.79,-0.59,-4],[-0.74,-0.57,-4],[-0.70,-0.58,-4],[-0.63,-0.57,-4],[-0.55,-0.60,-3],[-0.48,-0.56,-3],[-0.41,-0.54,-2],[-0.30,-0.56,-2],[-0.23,-0.54,-1],[-0.12,-0.58,-1],[-1.43,-0.69,-8],[-1.40,-0.65,-8],[-1.19,-0.71,-7],[-1.11,-0.68,-7],[-1.05,-0.68,-6],[-0.89,-0.64,-5],[-0.71,-0.66,-4],[-0.60,-0.63,-3],[-0.45,-0.67,-3],[-0.36,-0.67,-2],[-0.27,-0.67,-2],[-0.17,-0.69,-1],[-0.09,-0.65,-1],[-1.83,-0.76,-10],[-0.69,-0.81,-4],[-0.63,-0.81,-4],[-0.56,-0.75,-3],[-0.47,-0.74,-3],[-0.38,-0.77,-2],[-0.30,-0.78,-2],[-0.21,-0.85,-1],[-0.09,-0.83,-1],[-2.68,-0.94,-10],[-1.68,-0.93,-9],[-1.30,-0.95,-8],[-1.25,-0.89,-8],[-1.15,-0.89,-7],[-1.10,-0.84,-7],[-1.07,-0.90,-6],[-0.96,-0.82,-5],[-0.88,-0.87,-5],[-0.63,-0.89,-4],[-0.56,-0.93,-3],[-0.44,-0.92,-2],[-0.36,-0.92,-2],[-0.29,-1.01,-2],[-0.20,-1.03,-1],[-0.12,-0.94,-1],[-1.87,-1.02,-10],[-1.24,-1.03,-8],[-1.46,-1.09,-8],[-1.38,-1.09,-8],[-1.18,-1.11,-7],[-1.03,-1.17,-6],[-0.92,-1.06,-5],[-0.89,-1.07,-5],[-0.78,-1.10,-4],[-0.66,-1.14,-4],[-0.56,-0.99,-3],[-0.46,-1.07,-3],[-0.32,-1.12,-2],[-0.21,-1.19,-1],[-0.13,-1.16,-1],[-1.65,-1.32,-9],[-1.39,-1.24,-8],[-1.11,-1.23,-7],[-0.92,-1.14,-5],[-0.78,-1.25,-4],[-0.58,-1.28,-3],[-0.53,-1.23,-3],[-0.50,-1.30,-3],[-0.44,-1.32,-2],[-0.34,-1.25,-2],[-0.21,-1.30,-1],[-0.12,-1.27,-1],[-1.47,-1.47,-8],[-1.24,-1.46,-8],[-1.20,-1.36,-7],[-1.15,-1.51,-7],[-1.10,-1.42,-7],[-0.76,-1.41,-4],[-0.56,-1.42,-3],[-1.31,-1.66,-8],[-1.28,-1.65,-8],[-1.25,-1.64,-8],[-0.88,-1.68,-5],[-0.69,-1.59,-4],[-0.62,-1.55,-4],[-0.62,-1.65,-4],[-0.54,-1.57,-3],[-0.48,-1.61,-3],[-0.38,-1.55,-2],[-0.27,-1.61,-2],[-0.20,-1.70,-1],[-0.15,-1.65,-1],[-1.41,-1.87,-8],[-0.96,-1.89,-5],[-0.77,-1.80,-4],[-0.64,-1.80,-4],[-0.55,-1.78,-3],[-0.55,-1.84,-3],[-0.49,-1.86,-3],[-0.26,-1.77,-2],[-0.09,-1.81,-1],[-2.45,-1.91,-10],[-2.90,-2.20,-10],[-1.18,-2.08,-7],[-1.15,-2.26,-7],[-0.99,-2.29,-6],[-0.87,-2.19,-5],[-0.55,-2.20,-3],[-0.48,-2.03,-3],[-0.11,-2.05,-1],[-1.28,-2.37,-8],[-0.32,-2.37,-2],[-0.10,-2.35,-1],[-1.20,-2.66,-7],[-1.14,-2.69,-7],[-1.14,-2.79,-7],[-0.95,-2.72,-5],[-0.55,-2.77,-3],[-0.12,-2.74,-1],[-1.24,-3.02,-8],[-0.18,-3.29,-1],[-0.08,-3.50,-1],
[0.72,3.71,4],[0.60,3.19,3],[0.67,3.06,3],[0.30,2.97,2],[0.55,2.96,3],[1.45,2.89,8],[1.42,2.83,8],[0.24,2.67,1],[0.23,2.57,1],[0.21,2.36,1],[0.74,2.36,4],[0.98,2.34,5],[1.47,2.24,8],[0.60,2.27,3],[0.42,2.23,2],[0.49,2.24,3],[0.36,2.14,2],[0.44,2.16,2],[0.51,2.13,3],[0.70,2.17,4],[0.45,2.07,2],[0.25,2.10,1],[0.11,2.12,1],[0.83,2.07,4],[0.59,1.95,3],[0.21,2.00,1],[0.18,1.89,1],[1.03,1.85,6],[1.38,1.87,7],[1.59,1.79,8],[1.68,1.87,8],[0.55,1.79,3],[1.07,1.74,6],[1.20,1.69,6],[0.14,1.72,1],[0.39,1.71,2],[0.32,1.64,2],[0.43,1.65,2],[0.45,1.59,2],[0.50,1.60,3],[0.56,1.57,3],[0.62,1.59,3],[0.74,1.57,4],[0.71,1.51,4],[0.48,1.48,3],[0.54,1.43,3],[1.39,1.56,7],[2.27,1.64,9],[2.63,1.53,10],[1.79,1.46,8],[0.90,1.36,5],[1.13,1.31,6],[1.31,1.36,7],[0.71,1.32,4],[0.20,1.34,1],[0.27,1.36,1],[0.11,1.31,1],[0.35,1.27,2],[0.38,1.26,2],[0.28,1.21,1],[0.17,1.21,1],[0.09,1.19,0],[0.52,1.21,3],[0.98,1.22,5],[1.41,1.23,7],[1.69,1.25,8],[0.69,1.25,4],[0.36,1.15,2],[0.41,1.14,2],[0.52,1.12,3],[0.57,1.06,3],[0.67,1.12,4],[0.73,1.06,4],[1.09,1.15,6],[1.15,1.12,6],[1.29,1.07,7],[0.15,1.07,1],[0.21,1.05,1],[0.26,1.02,1],[1.89,1.04,8],[1.95,0.95,9],[0.69,0.97,4],[0.76,0.89,4],[0.82,0.93,4],[0.92,0.84,5],[0.99,0.81,5],[1.08,0.94,6],[1.08,0.86,6],[1.22,0.96,6],[1.36,0.86,7],[1.39,0.84,7],[1.72,0.84,8],[0.11,0.94,0],[0.24,0.89,1],[0.33,0.83,2],[0.57,0.91,3],[0.61,0.82,3],[0.70,0.81,4],[0.78,0.79,4],[0.84,0.84,4],[2.66,0.91,10],[2.66,0.85,10],[0.39,0.73,2],[0.58,0.70,3],[0.67,0.70,4],[0.77,0.74,4],[0.96,0.68,5],[1.29,0.75,7],[1.42,0.73,7],[1.55,0.68,8],[1.94,0.65,8],[0.15,0.72,1],[0.27,0.63,1],[0.36,0.64,2],[0.45,0.63,2],[0.51,0.62,3],[0.95,0.59,5],[0.98,0.51,5],[1.10,0.56,6],[1.18,0.51,6],[0.12,0.54,1],[0.21,0.51,1],[0.32,0.54,2],[0.44,0.47,2],[0.60,0.46,3],[0.72,0.47,4],[0.78,0.43,4],[0.88,0.45,4],[0.91,0.39,5],[1.03,0.42,5],[1.06,0.35,6],[1.43,0.48,7],[1.70,0.42,8],[1.83,0.45,8],[1.89,0.40,8],[0.10,0.45,0],[0.17,0.40,1],[0.25,0.36,1],[0.36,0.40,2],[0.51,0.43,3],[0.66,0.34,3],[0.95,0.32,5],[1.02,0.30,5],[1.27,0.34,7],[1.36,0.31,7],[1.47,0.36,7],[1.70,0.30,8],[1.99,0.26,9],[2.03,0.26,9],[0.30,0.31,1],[0.39,0.30,2],[0.56,0.30,3],[0.63,0.26,3],[0.91,0.25,5],[0.97,0.22,5],[0.15,0.27,1],[0.09,0.18,0],[0.23,0.16,1],[0.33,0.07,2],[0.41,0.19,2],[0.53,0.18,3],[0.63,0.14,3],[1.34,0.17,7],[1.32,0.13,7],[1.48,0.13,7],[1.53,0.15,8],[1.92,0.12,8],[3.00,0.10,10],[0.96,0.10,5],[0.83,0.07,4],[1.06,0.05,6],[1.20,0.04,6],[1.37,0.02,7],[1.77,0.05,8],[2.02,0.05,9],[0.19,0.09,1],[0.27,0.07,1],[0.38,0.09,2],[0.45,0.08,2],[0.56,0.02,3],[0.68,-0.04,4],[0.82,-0.07,4],[0.84,-0.09,4],[1.27,-0.04,7],[1.42,-0.04,7],[1.33,-0.11,7],[1.40,-0.17,7],[1.57,-0.14,8],[1.69,-0.10,8],[0.09,-0.04,0],[0.18,-0.07,1],[0.36,-0.04,2],[0.45,-0.07,2],[0.57,-0.11,3],[0.68,-0.13,4],[0.06,-0.18,0],[0.15,-0.22,1],[0.24,-0.18,1],[0.33,-0.20,2],[0.44,-0.20,2],[0.56,-0.25,3],[0.67,-0.18,4],[0.77,-0.23,4],[0.85,-0.23,4],[0.98,-0.29,5],[1.08,-0.18,6],[1.09,-0.25,6],[1.28,-0.28,7],[1.26,-0.20,7],[2.16,-0.32,9],[2.36,-0.47,9],[1.87,-0.41,8],[1.46,-0.35,7],[1.20,-0.34,6],[0.08,-0.31,0],[0.20,-0.28,1],[0.29,-0.34,1],[0.40,-0.31,2],[0.50,-0.40,3],[0.62,-0.39,3],[0.71,-0.43,4],[0.79,-0.34,4],[0.88,-0.36,4],[0.95,-0.31,5],[1.06,-0.35,6],[1.14,-0.42,6],[1.22,-0.48,6],[0.09,-0.45,0],[0.15,-0.49,1],[0.26,-0.45,1],[0.38,-0.43,2],[0.42,-0.47,2],[0.30,-0.56,1],[0.40,-0.55,2],[0.36,-0.65,2],[0.45,-0.63,2],[0.57,-0.57,3],[0.69,-0.59,4],[0.75,-0.59,4],[0.85,-0.63,4],[0.89,-0.62,4],[1.01,-0.57,5],[0.91,-0.47,5],[0.88,-0.48,4],[1.54,-0.53,8],[1.63,-0.53,8],[1.44,-0.64,7],[0.09,-0.63,0],[0.20,-0.63,1],[0.05,-0.74,0],[0.15,-0.74,1],[0.24,-0.72,1],[0.51,-0.80,3],[0.53,-0.82,3],[0.76,-0.72,4],[0.81,-0.72,4],[0.98,-0.74,5],[1.17,-0.70,6],[1.19,-0.81,6],[2.18,-0.79,9],[1.94,-0.82,8],[1.78,-0.89,8],[1.93,-0.99,8],[1.75,-1.06,8],[0.06,-0.87,0],[0.15,-0.85,1],[0.21,-0.89,1],[0.30,-0.87,1],[0.36,-0.89,2],[0.83,-0.88,4],[0.92,-0.89,5],[0.99,-0.91,5],[1.05,-0.91,5],[1.11,-0.90,6],[0.96,-0.99,5],[1.03,-1.03,5],[1.06,-1.07,6],[1.13,-1.06,6],[1.21,-1.03,6],[1.21,-1.09,6],[1.14,-1.15,6],[1.37,-1.11,7],[1.51,-1.13,7],[0.09,-1.01,0],[0.18,-1.07,1],[0.26,-1.01,1],[0.36,-1.05,2],[0.47,-1.14,2],[0.53,-1.02,3],[0.60,-1.10,3],[0.66,-1.02,3],[0.72,-1.01,4],[0.76,-1.10,4],[0.76,-1.14,4],[0.92,-1.17,5],[0.90,-1.24,5],[0.95,-1.32,5],[1.27,-1.31,7],[1.84,-1.24,8],[0.12,-1.21,1],[0.20,-1.32,1],[0.32,-1.30,2],[0.36,-1.34,2],[0.41,-1.29,2],[0.54,-1.33,3],[0.60,-1.24,3],[0.67,-1.40,4],[0.53,-1.41,3],[0.44,-1.46,2],[0.63,-1.41,3],[0.60,-1.52,3],[0.06,-1.52,0],[0.71,-1.59,4],[0.76,-1.60,4],[0.54,-1.65,3],[0.83,-1.65,4],[1.01,-1.64,5],[1.17,-1.61,6],[1.34,-1.53,7],[1.43,-1.45,7],[1.51,-1.48,7],[1.57,-1.51,8],[1.70,-1.41,8],[1.77,-1.45,8],[2.14,-1.67,9],[2.40,-1.70,9],[0.18,-1.70,1],[0.24,-1.69,1],[0.33,-1.73,2],[0.17,-1.79,1],[0.26,-1.82,1],[0.33,-1.83,2],[0.06,-1.86,0],[1.17,-1.77,6],[1.22,-1.82,6],[1.69,-1.74,8],[1.65,-1.90,8],[0.17,-1.98,1],[0.26,-1.96,1],[0.80,-1.99,4],[0.87,-2.12,4],[0.88,-2.09,4],[1.06,-1.96,6],[1.09,-2.05,6],[1.13,-2.15,6],[0.29,-2.19,1],[0.12,-2.23,1],[0.17,-2.36,1],[0.22,-2.44,1],[0.41,-2.51,2],[0.94,-2.44,5],[0.29,-2.91,1],[0.22,-3.25,1],[0.63,-3.24,3]
];

// grid breaks per panel (major / minor), no tick labels are shown
const tsneXMajor = [-40, -20, 0, 20], tsneXMinor = [-30, -10, 10, 30];
const tsneYMajor = [-40, -20, 0, 20], tsneYMinor = [-30, -10, 10];
const umapXMajor = [-4, -2, 0, 2, 4], umapXMinor = [-3, -1, 1, 3];
const umapYMajor = [-4, -2, 0, 2, 4], umapYMinor = [-5, -3, -1, 1, 3, 5];
const pcaXMajor = [-2, 0, 2], pcaXMinor = [-3, -1, 1, 3];
const pcaYMajor = [-2, 0, 2, 4], pcaYMinor = [-3, -1, 1, 3];

// ---------------- LAYOUT ----------------
const W = 2304, H = 768;
const marginL = 16, gap = 16, marginR = 16;
const panelTop = 67, panelBottom = 751.5;
const panelW = (W - marginL - marginR - 2 * gap) / 3;
const panelH = panelBottom - panelTop;

const colour = d3.scaleLinear()
  .domain([-10, 0, 10])
  .range(["steelblue", "white", "firebrick"])
  .interpolate(d3.interpolateLab);

const svg = d3.select("#chart");
svg.append("rect").attr("width", W).attr("height", H).attr("fill", "#ffffff");

const panels = [
  {title: panelTitles[0], data: tsne, xMaj: tsneXMajor, xMin: tsneXMinor, yMaj: tsneYMajor, yMin: tsneYMinor},
  {title: panelTitles[1], data: umap, xMaj: umapXMajor, xMin: umapXMinor, yMaj: umapYMajor, yMin: umapYMinor},
  {title: panelTitles[2], data: pca,  xMaj: pcaXMajor,  xMin: pcaXMinor,  yMaj: pcaYMajor,  yMin: pcaYMinor}
];

function expand(ext) {
  const d = (ext[1] - ext[0]) * 0.05;
  return [ext[0] - d, ext[1] + d];
}

panels.forEach((p, i) => {
  const left = marginL + i * (panelW + gap);
  const g = svg.append("g").attr("transform", `translate(${left},${panelTop})`);

  const x = d3.scaleLinear().domain(expand(d3.extent(p.data, d => d[0]))).range([0, panelW]);
  const y = d3.scaleLinear().domain(expand(d3.extent(p.data, d => d[1]))).range([panelH, 0]);

  const inX = v => v >= x.domain()[0] && v <= x.domain()[1];
  const inY = v => v >= y.domain()[0] && v <= y.domain()[1];

  function grid(axis, cls, width, shiftDown) {
    const a = g.append("g").attr("class", cls);
    if (shiftDown) a.attr("transform", `translate(0,${panelH})`);
    a.call(axis);
    a.select(".domain").remove();
    a.selectAll("text").remove();
    a.selectAll("line").attr("stroke", "#EBEBEB").attr("stroke-width", width);
  }
  // minor grid
  grid(d3.axisBottom(x).tickValues(p.xMin.filter(inX)).tickSize(-panelH).tickFormat(""), "gx-minor", 1.07, true);
  grid(d3.axisLeft(y).tickValues(p.yMin.filter(inY)).tickSize(-panelW).tickFormat(""), "gy-minor", 1.07, false);
  // major grid
  grid(d3.axisBottom(x).tickValues(p.xMaj.filter(inX)).tickSize(-panelH).tickFormat(""), "gx-major", 2.13, true);
  grid(d3.axisLeft(y).tickValues(p.yMaj.filter(inY)).tickSize(-panelW).tickFormat(""), "gy-major", 2.13, false);

  // points
  g.append("g").selectAll("circle")
    .data(p.data)
    .join("circle")
    .attr("cx", d => x(d[0]))
    .attr("cy", d => y(d[1]))
    .attr("r", 3.3)
    .attr("fill", d => colour(d[2]))
    .attr("fill-opacity", 0.7)
    .attr("stroke", d => colour(d[2]))
    .attr("stroke-opacity", 0.7)
    .attr("stroke-width", 1.2);

  // strip title
  svg.append("text")
    .attr("x", left + panelW / 2)
    .attr("y", 49.3)
    .attr("text-anchor", "middle")
    .attr("font-family", "'Liberation Sans', Arial, Helvetica, sans-serif")
    .attr("font-size", 24)
    .attr("fill", "#1a1a1a")
    .text(p.title);
});
</script>
</body>
</html>
